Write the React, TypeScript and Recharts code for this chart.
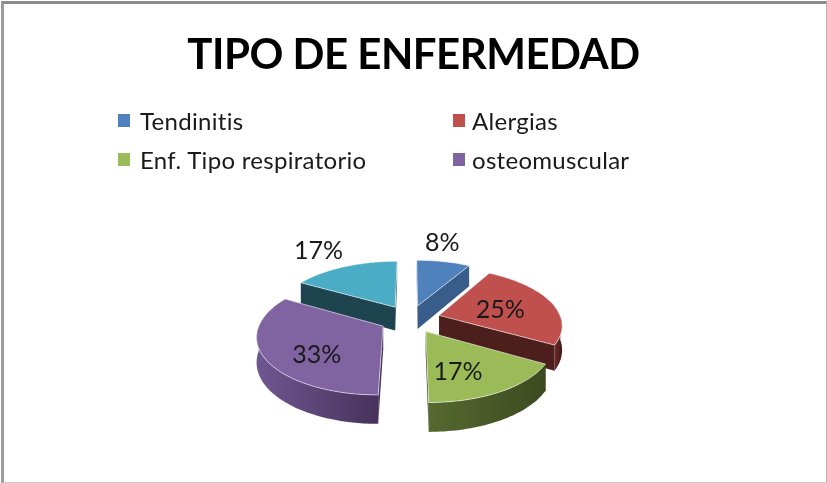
import React from 'react';
import { PieChart, Pie } from 'recharts';

const categories = ['Tendinitis', 'Alergias', 'Enf. Tipo respiratorio', 'osteomuscular', 'Otras'];
const values = [1, 3, 2, 4, 2];
const legendNames = ['Tendinitis', 'Alergias', 'Enf. Tipo respiratorio', 'osteomuscular'];
const topColors = ['#4f81bd', '#c0504d', '#9bbb59', '#8064a2', '#4bacc6'];
const wallColors = ['#385d8a', '#4d1f1c', '#3f4d22', '#4a3560', '#1e444f'];
const bandLight = ['#385d8a', '#6e2b28', '#56692f', '#6f5790', '#1e444f'];
const bandDark = ['#2c496d', '#3f1917', '#3d4a20', '#47325c', '#1e444f'];
const labelRadius = [1.55, 0.54, 0.62, 0.65, 1.55];
const labelTurn = [5, 0, -9, 12, 1];
// back to front, so nearer slices cover the ones behind them
const drawLayers = [[0, 4], [1, 3], [2]];

const data = categories.map((name, i) => ({ name, value: values[i] }));

const TILT = 0.46;
const PERSPECTIVE = 0.15;
const EXPLODE = 0.25;
const DEPTH = 24;
const RAD = Math.PI / 180;

// disc coordinates (radius 1) to the screen, nearer points get bigger
const project = (p: any, u: number, v: number, drop = 0) => {
  const s = 1 / (1 - PERSPECTIVE * v);
  return [p.cx + p.outerRadius * u * s, p.cy + p.outerRadius * TILT * v * s + drop * s];
};

const polar = (deg: number, r = 1) => [r * Math.cos(deg * RAD), -r * Math.sin(deg * RAD)];

const toPath = (pts: number[][]) =>
  'M' + pts.map((q) => q[0].toFixed(1) + ',' + q[1].toFixed(1)).join('L') + 'Z';

const Wedge = (props: any, layer: number[]) => {
  const { index, startAngle, endAngle, midAngle } = props;
  if (!layer.includes(index)) return <g key={index} />;
  const mid = midAngle ?? (startAngle + endAngle) / 2;
  const [ox, oy] = polar(mid, EXPLODE);
  const at = (deg: number, r: number, drop = 0) => {
    const [u, v] = polar(deg, r);
    return project(props, ox + u, oy + v, drop);
  };
  const angles: number[] = [];
  const steps = 40;
  for (let i = 0; i <= steps; i++) angles.push(startAngle + ((endAngle - startAngle) * i) / steps);

  const top = [at(0, 0), ...angles.map((a) => at(a, 1))];
  const apexDown = at(0, 0, DEPTH);
  const walls = [startAngle, endAngle].map((a) =>
    toPath([at(0, 0), at(a, 1), at(a, 1, DEPTH), apexDown])
  );
  const front = angles.filter((a) => Math.sin(a * RAD) <= 0.02);
  const band = front.length
    ? toPath([...front.map((a) => at(a, 1)), ...front.slice().reverse().map((a) => at(a, 1, DEPTH))])
    : null;
  const gradId = 'band' + index;

  return (
    <g key={index}>
      <defs>
        <linearGradient id={gradId} x1="0" y1="0" x2="1" y2="0">
          <stop offset="0%" stopColor={bandLight[index]} />
          <stop offset="100%" stopColor={bandDark[index]} />
        </linearGradient>
      </defs>
      {walls.map((d, i) => (
        <path key={i} d={d} fill={wallColors[index]} stroke="none" />
      ))}
      {band && <path d={band} fill={`url(#${gradId})`} stroke="none" />}
      <path d={toPath(top)} fill={topColors[index]} stroke="#ffffff" strokeOpacity={0.55} strokeWidth={1} />
    </g>
  );
};

const renderLabel = (props: any) => {
  const { index, midAngle, percent } = props;
  const [ox, oy] = polar(midAngle, EXPLODE);
  const [u, v] = polar(midAngle + labelTurn[index], labelRadius[index]);
  const [x, y] = project(props, ox + u, oy + v);
  return (
    <text
      key={index}
      x={x}
      y={y}
      textAnchor="middle"
      dominantBaseline="central"
      fontFamily="Lato, 'Open Sans', sans-serif"
      fontSize={25}
      fill="#1a1a1a"
    >
      {Math.round(percent * 100) + '%'}
    </text>
  );
};

const legendStyle = (i: number): React.CSSProperties => ({
  position: 'absolute',
  left: i % 2 === 0 ? 118 : 453,
  top: i < 2 ? 104 : 143,
  display: 'flex',
  alignItems: 'center',
  height: 32,
  whiteSpace: 'nowrap',
  fontFamily: "Lato, 'Open Sans', sans-serif",
  fontSize: 24,
  letterSpacing: 0.3,
  color: '#1a1a1a',
});

export default function App() {
  return (
    <div style={{ position: 'absolute', left: 0, top: 0, width: 827, height: 483, background: '#fff', overflow: 'hidden', filter: 'blur(0.4px)' }}>
      <div
        style={{
          position: 'absolute',
          left: 1,
          top: 1,
          width: 826,
          height: 482,
          boxSizing: 'border-box',
          borderTop: '3px solid #8c8c8c',
          borderLeft: '3px solid #9a9a9a',
          borderRight: '1px solid #b5b5b5',
          borderBottom: '1px solid #c8c8c8',
        }}
      />
      <div
        style={{
          position: 'absolute',
          left: 0,
          width: 827,
          top: 28,
          textAlign: 'center',
          fontFamily: "Lato, 'Open Sans', sans-serif",
          fontWeight: 700,
          fontSize: 42,
          letterSpacing: -0.5,
          color: '#000',
          whiteSpace: 'nowrap',
        }}
      >
        TIPO DE ENFERMEDAD
      </div>
      {legendNames.map((name, i) => (
        <div key={name} style={legendStyle(i)}>
          <span style={{ display: 'inline-block', width: 12, height: 13, background: topColors[i], marginRight: i % 2 === 0 ? 10 : 7 }} />
          {name}
        </div>
      ))}
      <div style={{ position: 'absolute', left: 0, top: 0 }}>
        <PieChart width={827} height={483} margin={{ top: 0, right: 0, bottom: 0, left: 0 }}>
          {drawLayers.map((layer, n) => (
            <Pie
              key={n}
              data={data}
              dataKey="value"
              nameKey="name"
              cx={410}
              cy={319}
              outerRadius={122}
              startAngle={90}
              endAngle={-270}
              paddingAngle={0}
              stroke="none"
              isAnimationActive={false}
              shape={(p: any) => Wedge(p, layer)}
              labelLine={false}
              label={n === drawLayers.length - 1 ? renderLabel : false}
            />
          ))}
        </PieChart>
      </div>
    </div>
  );
}
